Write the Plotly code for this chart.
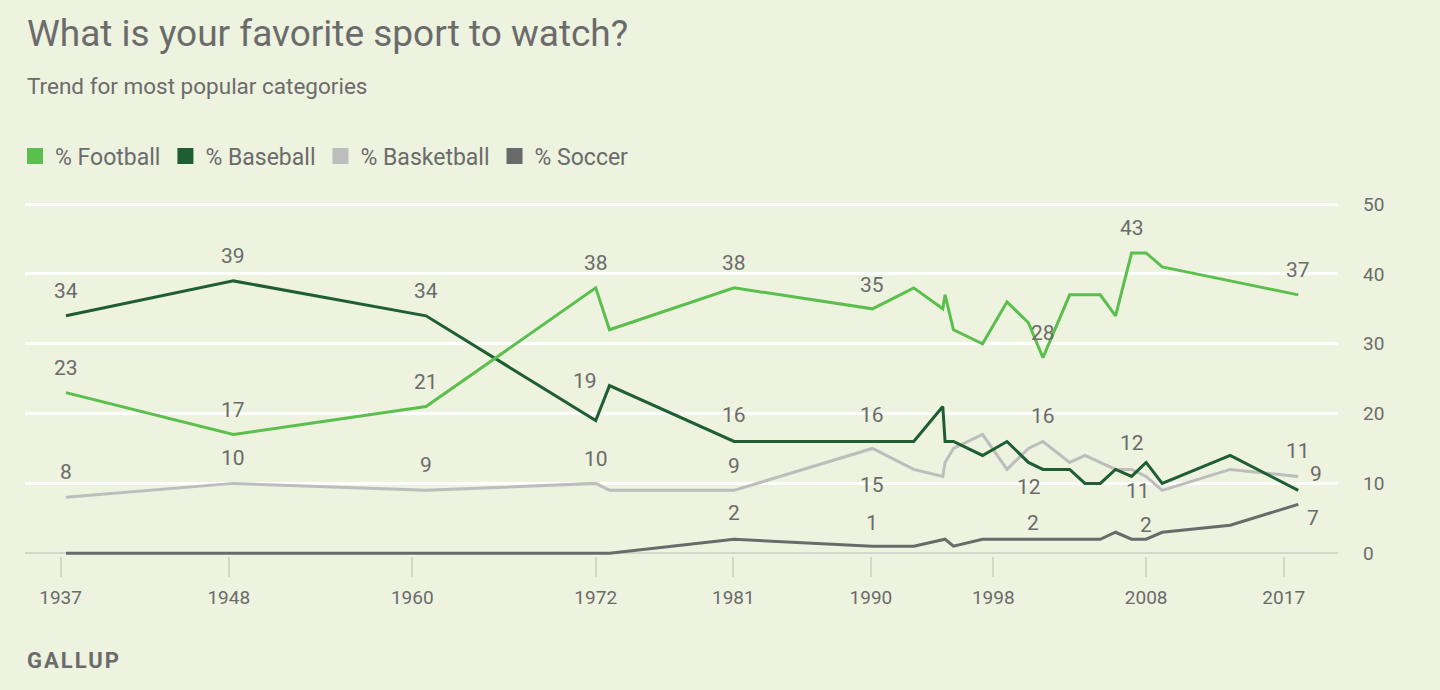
import plotly.graph_objects as go

# ---- data ----
dates = [1937.35, 1948.3, 1960.9, 1972.0, 1972.9, 1981.05, 1990.1, 1992.8, 1994.7, 1994.85,
         1995.4, 1997.3, 1998.9, 2000.3, 2001.25, 2003.0, 2004.0, 2005.0, 2006.0, 2007.05,
         2008.0, 2009.05, 2013.5, 2017.95]
football = [23, 17, 21, 38, 32, 38, 35, 38, 35, 37,
            32, 30, 36, 33, 28, 37, 37, 37, 34, 43,
            43, 41, 39, 37]
baseball = [34, 39, 34, 19, 24, 16, 16, 16, 21, 16,
            16, 14, 16, 13, 12, 12, 10, 10, 12, 11,
            13, 10, 14, 9]
basketball = [8, 10, 9, 10, 9, 9, 15, 12, 11, 13,
              15, 17, 12, 15, 16, 13, 14, 13, 12, 12,
              11, 9, 12, 11]
soccer = [0, 0, 0, 0, 0, 2, 1, 1, 2, 2,
          1, 2, 2, 2, 2, 2, 2, 2, 3, 2,
          2, 3, 4, 7]

series_names = ["% Football", "% Baseball", "% Basketball", "% Soccer"]
tick_years = [1937, 1948, 1960, 1972, 1981, 1990, 1998, 2008, 2017]
y_ticks = [0, 10, 20, 30, 40, 50]

# ---- styling ----
colors = ["#5bbf4e", "#1f5d32", "#bdbdbd", "#6a6a6a"]
BG = "#edf3df"
TXT = "#6b6b6b"
FONT = "Roboto"

# labelled points: (index into dates, xshift px, yshift px)
label_specs = {
    0: [(0, 0, 25), (1, 0, 25), (2, 0, 25), (3, 0, 25), (5, 0, 25), (6, 0, 24),
        (14, 0, 25), (19, 0, 25), (23, 0, 25)],
    1: [(0, 0, 25), (1, 0, 25), (2, 0, 25), (3, -11, 40), (5, 0, 26), (6, 0, 26),
        (14, -14, -18), (19, 6, -15), (23, 18, 16)],
    2: [(0, 0, 25), (1, 0, 25), (2, 0, 25), (3, 0, 24), (5, 0, 24), (6, 0, -37),
        (14, 0, 25), (19, 0, 26), (23, 0, 25)],
    3: [(5, 0, 26), (6, 0, 23), (14, -10, 16), (20, 0, 14), (23, 15, -14)],
}

values = [football, baseball, basketball, soccer]

fig = go.Figure()
# draw order: soccer, basketball, baseball, football (football on top)
for i in [3, 2, 1, 0]:
    fig.add_trace(go.Scatter(
        x=dates, y=values[i], mode="lines", name=series_names[i],
        line=dict(color=colors[i], width=3), showlegend=False,
        hoverinfo="x+y"))

# legend entries as squares
for i in range(4):
    fig.add_trace(go.Scatter(
        x=[None], y=[None], mode="markers", name=series_names[i],
        marker=dict(symbol="square", size=16, color=colors[i]),
        showlegend=True))

annotations = []
for si, specs in label_specs.items():
    for idx, dx, dy in specs:
        annotations.append(dict(
            x=dates[idx], y=values[si][idx], xref="x", yref="y",
            text=str(values[si][idx]), showarrow=False,
            xshift=dx, yshift=dy, yanchor="middle", xanchor="center",
            font=dict(family=FONT, size=21, color=TXT)))

# plot area geometry (pixels)
W, H = 1440, 690
ML, MR, MT, MB = 25, 102, 202, 134
plot_h = H - MT - MB


def py(px):
    """convert pixel y (from top) to paper y"""
    return (H - MB - px) / plot_h


annotations += [
    dict(x=0, y=py(33), xref="paper", yref="paper", xanchor="left", yanchor="middle",
         text="What is your favorite sport to watch?", showarrow=False,
         font=dict(family=FONT, size=37, color=TXT)),
    dict(x=0, y=py(86), xref="paper", yref="paper", xanchor="left", yanchor="middle",
         text="Trend for most popular categories", showarrow=False,
         font=dict(family=FONT, size=22.5, color=TXT)),
    dict(x=0, y=py(660), xref="paper", yref="paper", xanchor="left", yanchor="middle",
         text='<span style="letter-spacing:2px"><b>GALLUP</b></span>', showarrow=False,
         font=dict(family=FONT, size=22, color=TXT)),
]

fig.update_layout(
    width=W, height=H,
    margin=dict(l=ML, r=MR, t=MT, b=MB),
    paper_bgcolor=BG, plot_bgcolor=BG,
    font=dict(family=FONT, color=TXT),
    showlegend=True,
    legend=dict(orientation="h", xref="container", yref="container",
                x=15 / W, y=1 - 156 / H, xanchor="left", yanchor="middle",
                font=dict(family=FONT, size=23, color=TXT),
                bgcolor="rgba(0,0,0,0)", itemclick=False),
    annotations=annotations,
    xaxis=dict(range=[1934.67, 2020.55], tickvals=tick_years, ticktext=[str(t) for t in tick_years],
               showgrid=False, zeroline=False, showline=False,
               ticks="outside", ticklen=20, tickwidth=1.5, tickcolor="#d3d8cb",
               ticklabelstandoff=4,
               tickfont=dict(family=FONT, size=19, color=TXT), fixedrange=True),
    yaxis=dict(range=[-0.4, 50.3], tickvals=y_ticks, side="right",
               showgrid=True, gridcolor="#ffffff", gridwidth=3,
               zeroline=True, zerolinecolor="#d3d8cb", zerolinewidth=2,
               showline=False, ticks="", ticklabelstandoff=24,
               tickfont=dict(family=FONT, size=19, color=TXT), fixedrange=True),
)

fig.write_html("out.html", config={"displayModeBar": False},
               post_script="document.body.style.margin='0';document.body.style.background='" + BG + "';")
